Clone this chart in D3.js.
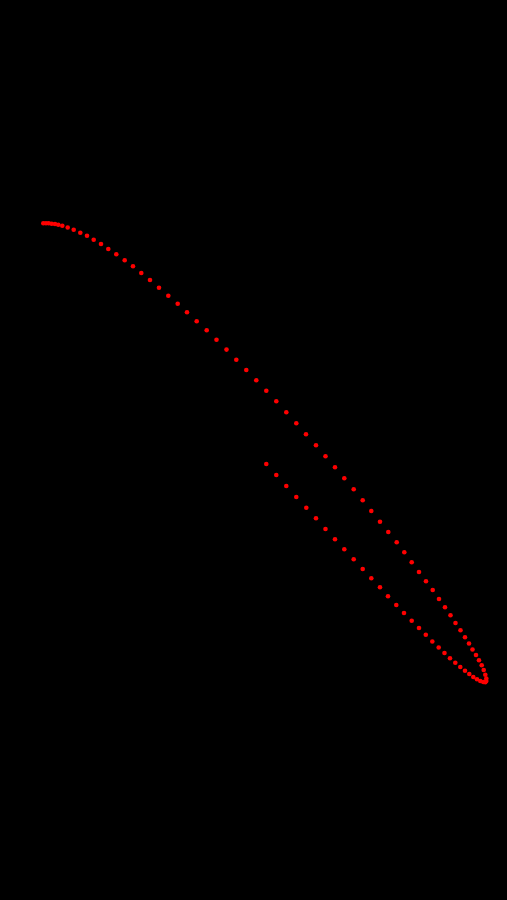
<!DOCTYPE html>
<html>
<head>
<meta charset="utf-8">
<script src="https://cdn.jsdelivr.net/npm/d3@7"></script>
<style>
html,body{margin:0;padding:0;background:#000;}
svg{display:block;}
</style>
</head>
<body>
<script>
// Trajectory samples (x, y) in chart units
const xValues = [
0.433,0.460,0.487,0.517,0.550,0.583,0.623,0.677,0.737,0.803,
0.870,0.937,1.010,1.083,1.163,1.247,1.330,1.413,1.500,1.590,
1.683,1.777,1.870,1.967,2.067,2.165,2.265,2.363,2.463,2.563,
2.663,2.763,2.863,2.963,3.060,3.160,3.255,3.350,3.443,3.537,
3.627,3.713,3.800,3.883,3.967,4.043,4.117,4.190,4.260,4.327,
4.390,4.450,4.505,4.555,4.605,4.650,4.690,4.725,4.760,4.790,
4.817,4.837,4.853,4.863,4.863,4.853,
4.833,4.803,4.770,4.733,4.693,4.650,4.603,4.553,4.500,4.445,
4.387,4.323,4.258,4.190,4.117,4.040,3.963,3.880,3.800,3.713,
3.627,3.537,3.443,3.350,3.255,3.160,3.063,2.963,2.863,2.763,2.663
];
const yValues = [
6.767,6.767,6.767,6.763,6.760,6.753,6.742,6.725,6.703,6.673,
6.643,6.603,6.560,6.510,6.457,6.397,6.337,6.270,6.200,6.123,
6.043,5.963,5.877,5.787,5.697,5.602,5.504,5.403,5.300,5.197,
5.093,4.987,4.877,4.767,4.657,4.547,4.437,4.327,4.217,4.107,
3.997,3.890,3.783,3.680,3.577,3.477,3.377,3.280,3.187,3.100,
3.010,2.927,2.848,2.770,2.698,2.628,2.565,2.505,2.450,2.398,
2.347,2.300,2.253,2.215,2.190,2.177,
2.180,2.190,2.207,2.230,2.260,2.293,2.330,2.373,2.417,2.470,
2.525,2.585,2.652,2.720,2.793,2.870,2.950,3.037,3.127,3.218,
3.310,3.407,3.507,3.607,3.710,3.817,3.923,4.030,4.140,4.250,4.360
];
const xDomain = [0, 5.07];
const yDomain = [0, 9];

const W = 507, H = 900;
const svg = d3.select("body").append("svg").attr("width", W).attr("height", H);
svg.append("rect").attr("width", W).attr("height", H).attr("fill", "#000");

const x = d3.scaleLinear().domain(xDomain).range([0, W]);
const y = d3.scaleLinear().domain(yDomain).range([H, 0]);

const pts = xValues.map((v, i) => ({x: v, y: yValues[i]}));
svg.append("g").selectAll("circle").data(pts).join("circle")
  .attr("cx", d => x(d.x))
  .attr("cy", d => y(d.y))
  .attr("r", 2.3)
  .attr("fill", "#ff0000");
</script>
</body>
</html>
